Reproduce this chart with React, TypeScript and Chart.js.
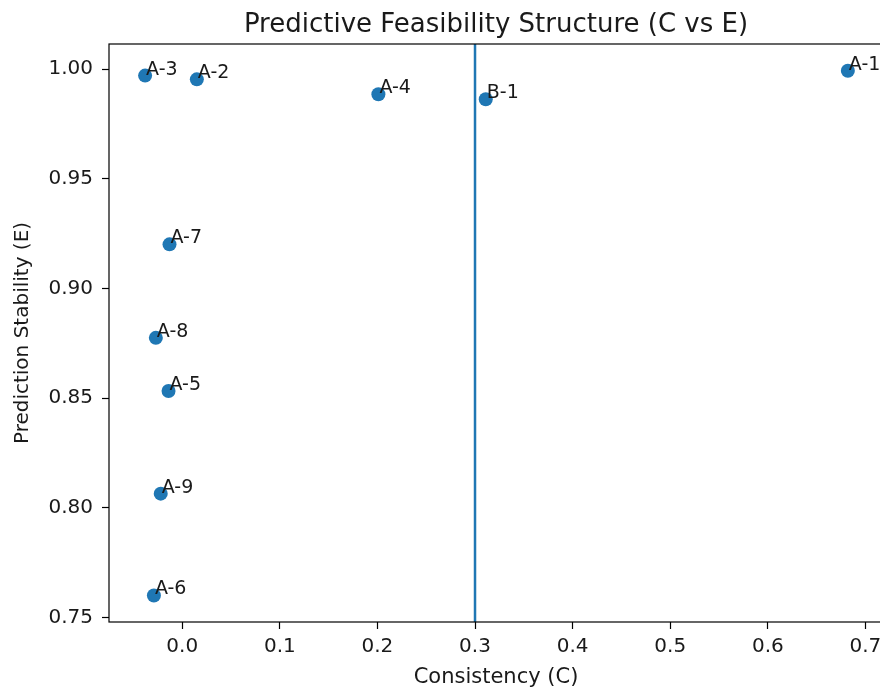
import React, { useEffect, useRef } from 'react';
import { Chart, registerables } from 'chart.js';

Chart.register(...registerables);

const pointLabels = ['A-1', 'A-2', 'A-3', 'A-4', 'A-5', 'A-6', 'A-7', 'A-8', 'A-9', 'B-1'];
const consistency = [0.682, 0.015, -0.038, 0.201, -0.014, -0.029, -0.013, -0.027, -0.022, 0.311];
const stability = [0.9992, 0.9953, 0.997, 0.9885, 0.8533, 0.7601, 0.9201, 0.8775, 0.8065, 0.9862];
const threshold = 0.3;
const xLimits = [-0.075, 0.718];
const yLimits = [0.748, 1.0114];
const xStep = 0.1;
const yStep = 0.05;

const chartTitle = 'Predictive Feasibility Structure (C vs E)';
const xTitle = 'Consistency (C)';
const yTitle = 'Prediction Stability (E)';

const FONT = '"DejaVu Sans", sans-serif';
const TEXT = '#1a1a1a';
const BLUE = '#1f77b4';

export default function App() {
  const ref = useRef<HTMLCanvasElement | null>(null);

  useEffect(() => {
    const canvas = ref.current;
    if (!canvas) return;

    const overlay = {
      id: 'overlay',
      afterDatasetsDraw(chart: any) {
        const ctx = chart.ctx;
        const meta = chart.getDatasetMeta(0);
        ctx.save();
        ctx.font = `19px ${FONT}`;
        ctx.fillStyle = TEXT;
        ctx.textAlign = 'left';
        ctx.textBaseline = 'alphabetic';
        meta.data.forEach((el: any, i: number) => {
          ctx.fillText(pointLabels[i], el.x + 1, el.y - 1);
        });
        ctx.restore();
      },
      afterDraw(chart: any) {
        const { ctx, chartArea: a } = chart;
        ctx.save();
        ctx.strokeStyle = '#000';
        ctx.lineWidth = 1.2;
        ctx.strokeRect(a.left, a.top, a.right - a.left, a.bottom - a.top);
        ctx.font = `26px ${FONT}`;
        ctx.fillStyle = TEXT;
        ctx.textAlign = 'center';
        ctx.textBaseline = 'alphabetic';
        ctx.fillText(chartTitle, (a.left + a.right) / 2, 32);
        ctx.restore();
      },
    };

    const chart = new Chart(canvas, {
      type: 'scatter',
      data: {
        datasets: [
          {
            label: 'points',
            data: consistency.map((c, i) => ({ x: c, y: stability[i] })),
            backgroundColor: BLUE,
            borderWidth: 0,
            pointRadius: 7,
            pointHoverRadius: 7,
          },
          {
            label: 'threshold',
            data: [
              { x: threshold, y: yLimits[0] },
              { x: threshold, y: yLimits[1] },
            ],
            showLine: true,
            borderColor: BLUE,
            borderWidth: 2.5,
            pointRadius: 0,
          },
        ],
      },
      plugins: [overlay],
      options: {
        responsive: false,
        animation: false,
        events: [],
        devicePixelRatio: 1,
        layout: { padding: { left: 0, top: 44, right: 17, bottom: 0 } },
        plugins: {
          legend: { display: false },
          tooltip: { enabled: false },
          title: { display: false },
        },
        scales: {
          x: {
            type: 'linear',
            min: xLimits[0],
            max: xLimits[1],
            ticks: {
              stepSize: xStep,
              includeBounds: false,
              autoSkip: false,
              maxRotation: 0,
              padding: 6,
              color: TEXT,
              font: { family: FONT, size: 20 },
              callback: (v: any) => Number(v).toFixed(1),
            },
            grid: {
              drawOnChartArea: false,
              drawTicks: true,
              tickLength: 7,
              tickColor: '#000',
              tickWidth: 1.2,
            },
            border: { display: false },
            title: {
              display: true,
              text: xTitle,
              color: TEXT,
              font: { family: FONT, size: 21 },
              padding: { top: 0, bottom: 2 },
            },
            afterFit: (s: any) => {
              s.height = 70;
            },
          },
          y: {
            type: 'linear',
            min: yLimits[0],
            max: yLimits[1],
            ticks: {
              stepSize: yStep,
              includeBounds: false,
              autoSkip: false,
              padding: 9,
              color: TEXT,
              font: { family: FONT, size: 20 },
              callback: (v: any) => Number(v).toFixed(2),
            },
            grid: {
              drawOnChartArea: false,
              drawTicks: true,
              tickLength: 7,
              tickColor: '#000',
              tickWidth: 1.2,
            },
            border: { display: false },
            title: {
              display: true,
              text: yTitle,
              color: TEXT,
              font: { family: FONT, size: 20 },
              padding: { top: 11, bottom: 0 },
            },
            afterFit: (s: any) => {
              s.width = 109;
            },
          },
        },
      },
    } as any);

    return () => chart.destroy();
  }, []);

  return (
    <div
      style={{
        position: 'absolute',
        left: 0,
        top: 0,
        width: 880,
        height: 692,
        overflow: 'hidden',
        background: '#fff',
      }}
    >
      <canvas ref={ref} width={900} height={692} style={{ display: 'block' }} />
    </div>
  );
}
